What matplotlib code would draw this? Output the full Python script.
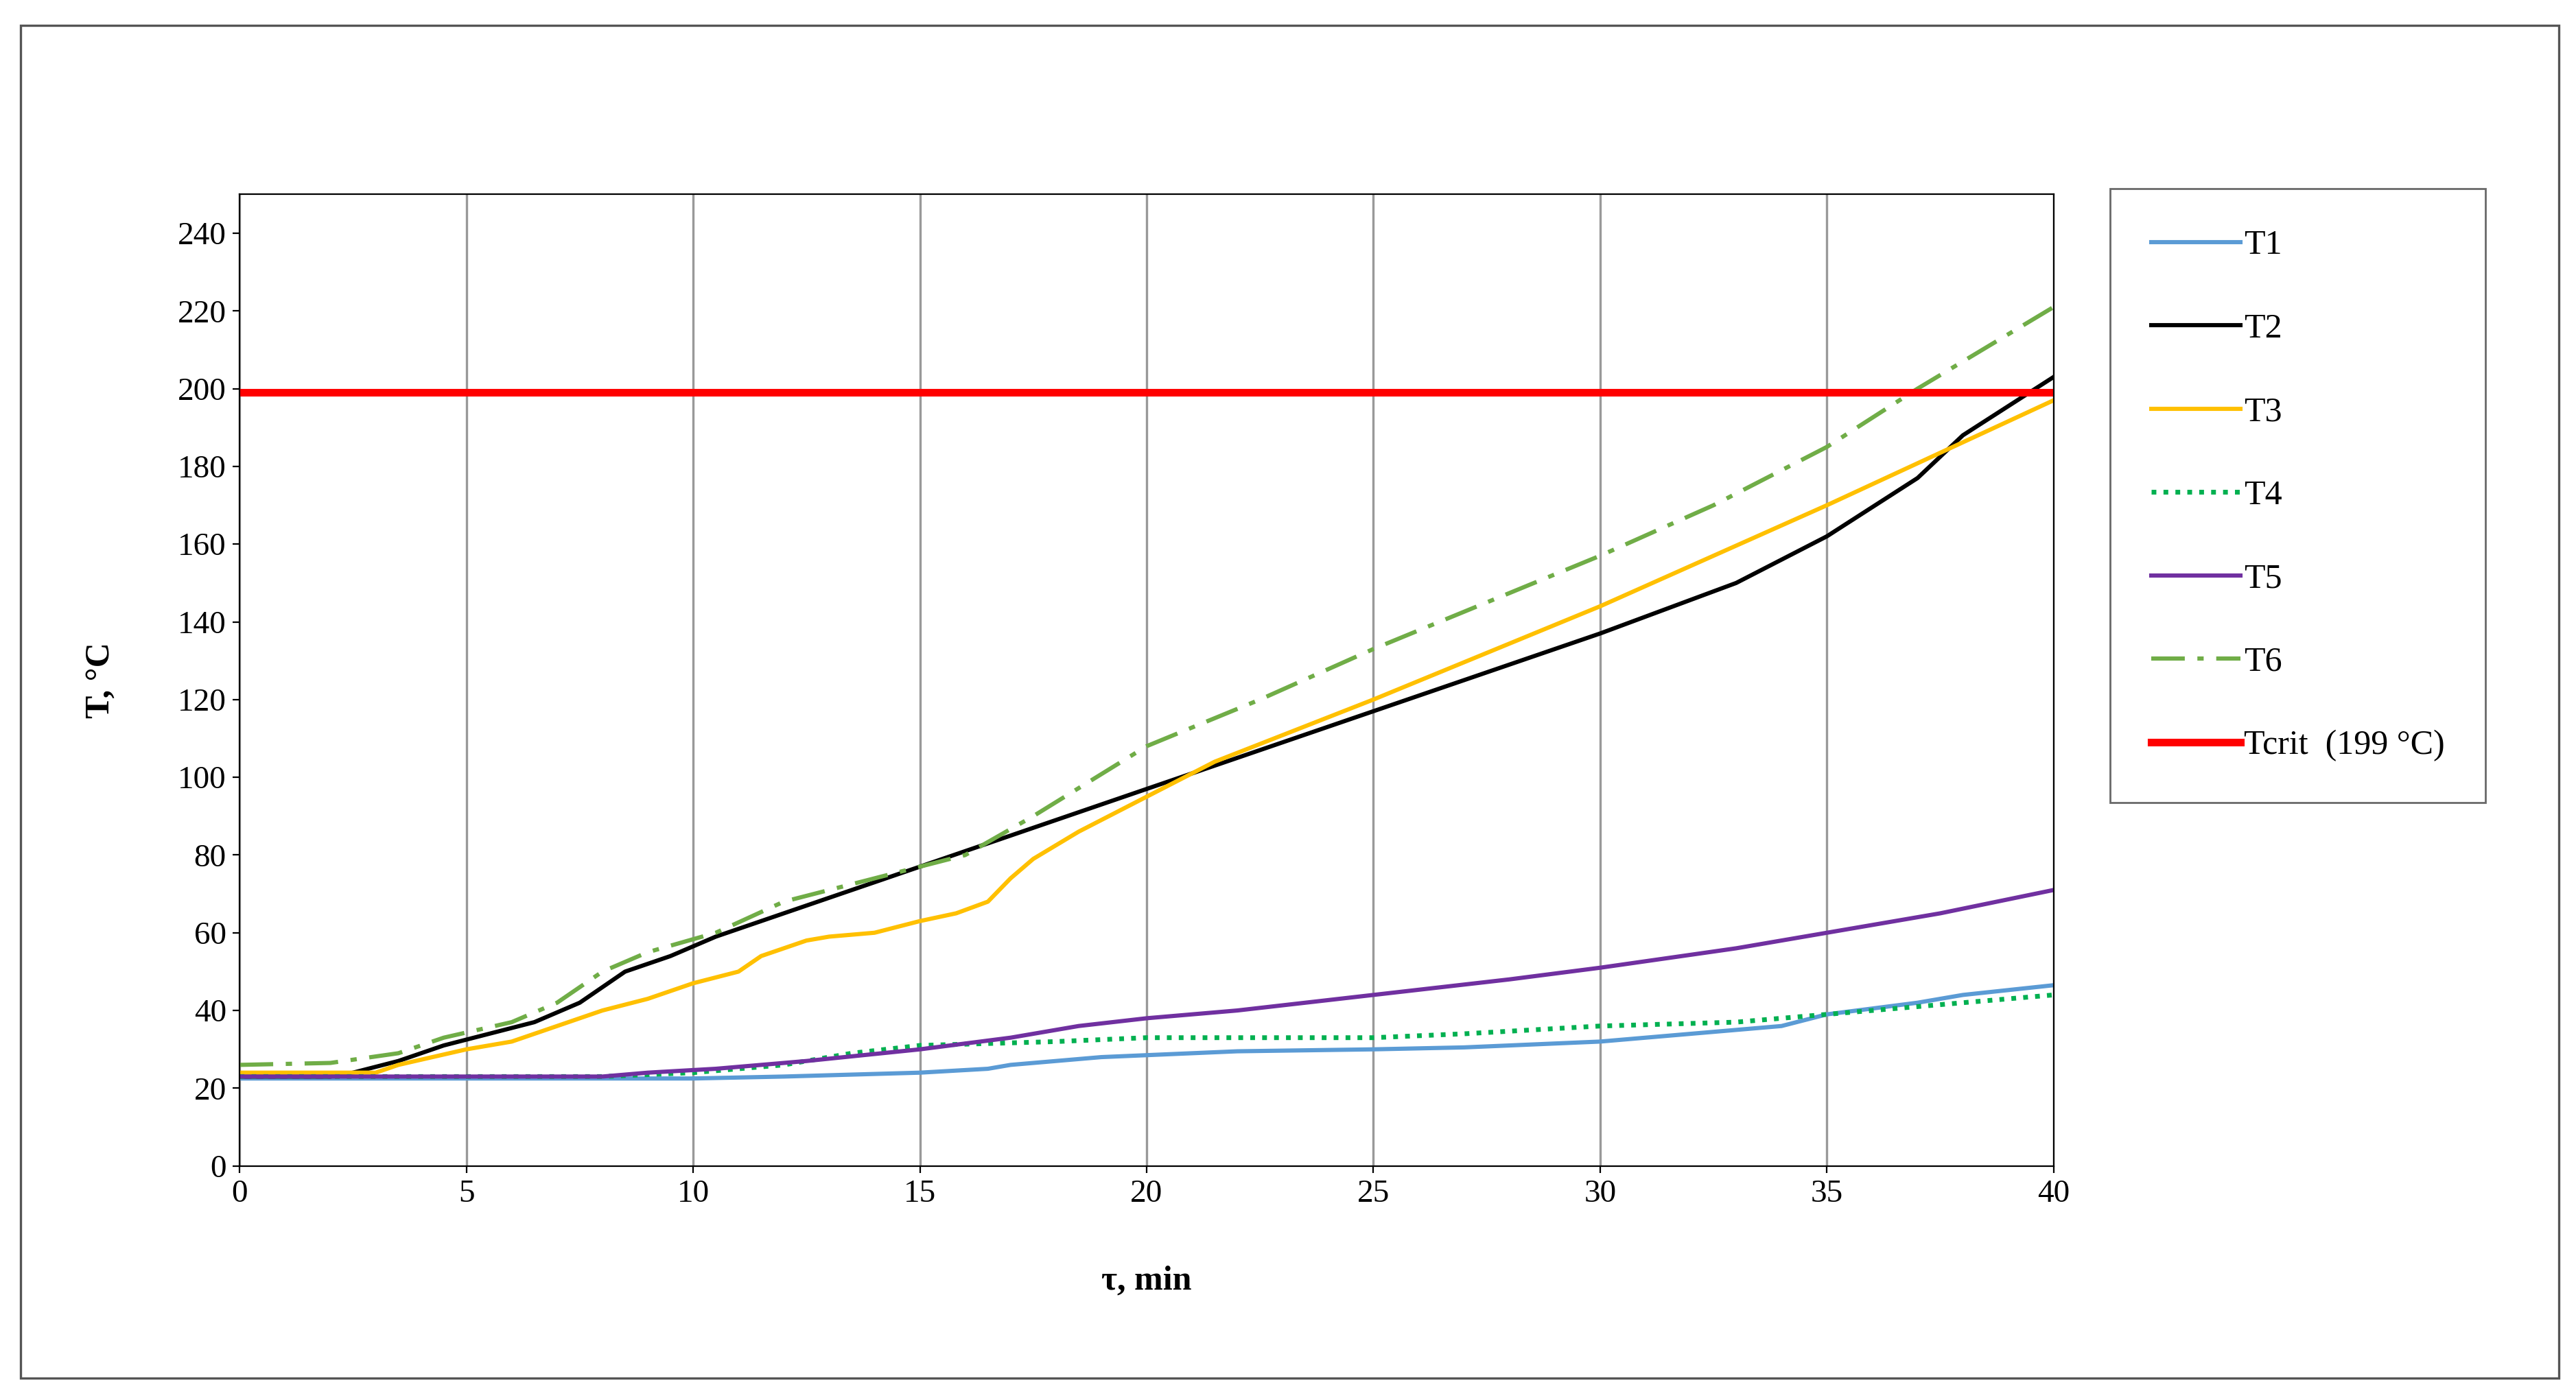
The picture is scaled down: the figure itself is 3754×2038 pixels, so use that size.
import numpy as np
import matplotlib.pyplot as plt

plt.rcParams['font.family'] = ['Liberation Serif', 'DejaVu Serif']

t1_x = [0, 5, 10, 12, 15, 16.5, 17, 19, 21, 22, 25, 27, 28, 30, 32, 34, 35, 37, 38, 40]
t1_y = [22.5, 22.5, 22.5, 23, 24, 25, 26, 28, 29, 29.5, 30, 30.5, 31, 32, 34, 36, 39, 42, 44, 46.5]
t2_x = [0, 2, 2.5, 3.5, 4.5, 5.5, 6.5, 7.5, 8.5, 9.5, 10.5, 15, 20, 25, 30, 33, 35, 37, 38, 40]
t2_y = [23, 23, 24, 27, 31, 34, 37, 42, 50, 54, 59, 77, 97, 117, 137, 150, 162, 177, 188, 203]
t3_x = [0, 3, 3.5, 5, 6, 7, 8, 9, 10, 11, 11.5, 12.5, 13, 14, 15, 15.8, 16.5, 17, 17.5, 18.5, 20, 21.5, 25, 30, 35, 40]
t3_y = [24, 24, 26, 30, 32, 36, 40, 43, 47, 50, 54, 58, 59, 60, 63, 65, 68, 74, 79, 86, 95, 104, 120, 144, 170, 197]
t4_x = [0, 8, 10, 12, 13.5, 15, 18, 20, 25, 27, 30, 33, 35, 37, 40]
t4_y = [23, 23, 24, 26, 29, 31, 32, 33, 33, 34, 36, 37, 39, 41, 44]
t5_x = [0, 8, 9, 10.5, 12.5, 15, 17, 18.5, 20, 22, 25, 28, 30, 33, 35, 37.5, 40]
t5_y = [23, 23, 24, 25, 27, 30, 33, 36, 38, 40, 44, 48, 51, 56, 60, 65, 71]
t6_x = [0, 2, 3.5, 4.5, 6, 7, 8, 9, 10.5, 12, 14, 16, 17.5, 20, 22.5, 25, 27.5, 30, 32.5, 35, 37, 40]
t6_y = [26, 26.5, 29, 33, 37, 42, 50, 55, 60, 68, 74, 80, 90, 108, 120, 133, 145, 157, 170, 185, 200, 221]
t_crit = 199

fig = plt.figure(figsize=(18.775, 10.19), dpi=200)
fig.patches.append(plt.Rectangle((0.008, 0.014), 0.985, 0.968, transform=fig.transFigure,
                                 fill=False, edgecolor='#555555', linewidth=1.2))
ax = fig.add_axes([0.093, 0.166, 0.704, 0.695])

ax.plot(t1_x, t1_y, color='#5b9bd5', lw=2.2, label='T1')
ax.plot(t2_x, t2_y, color='black', lw=2.2, label='T2')
ax.plot(t3_x, t3_y, color='#ffc000', lw=2.2, label='T3')
ax.plot(t4_x, t4_y, color='#00b050', lw=2.5, ls=(0, (1, 1.5)), label='T4')
ax.plot(t5_x, t5_y, color='#7030a0', lw=2.2, label='T5')
ax.plot(t6_x, t6_y, color='#70ad47', lw=2.2, ls=(0, (8, 3, 1.5, 3)), label='T6')
ax.axhline(t_crit, color='#ff0000', lw=4, label='Tcrit  (199 °C)')

ax.set_xlim(0, 40)
ax.set_ylim(0, 250)
ax.set_xticks(range(0, 41, 5))
ax.set_yticks(range(0, 241, 20))
ax.grid(axis='x', color='#999999', lw=1.2)
ax.tick_params(labelsize=17, direction='out')
ax.set_xlabel('τ, min', fontsize=18, fontweight='bold', labelpad=30)
ax.set_ylabel('T, °C', fontsize=18, fontweight='bold', labelpad=32)

leg = ax.legend(loc='upper left', bbox_to_anchor=(1.031, 1.006), borderaxespad=0,
                fontsize=18, frameon=True, fancybox=False, edgecolor='#444444',
                handlelength=2.6, labelspacing=1.5, borderpad=1.2, handletextpad=0.1)
leg.get_frame().set_linewidth(1.0)

fig.savefig('out.png', dpi=200)
